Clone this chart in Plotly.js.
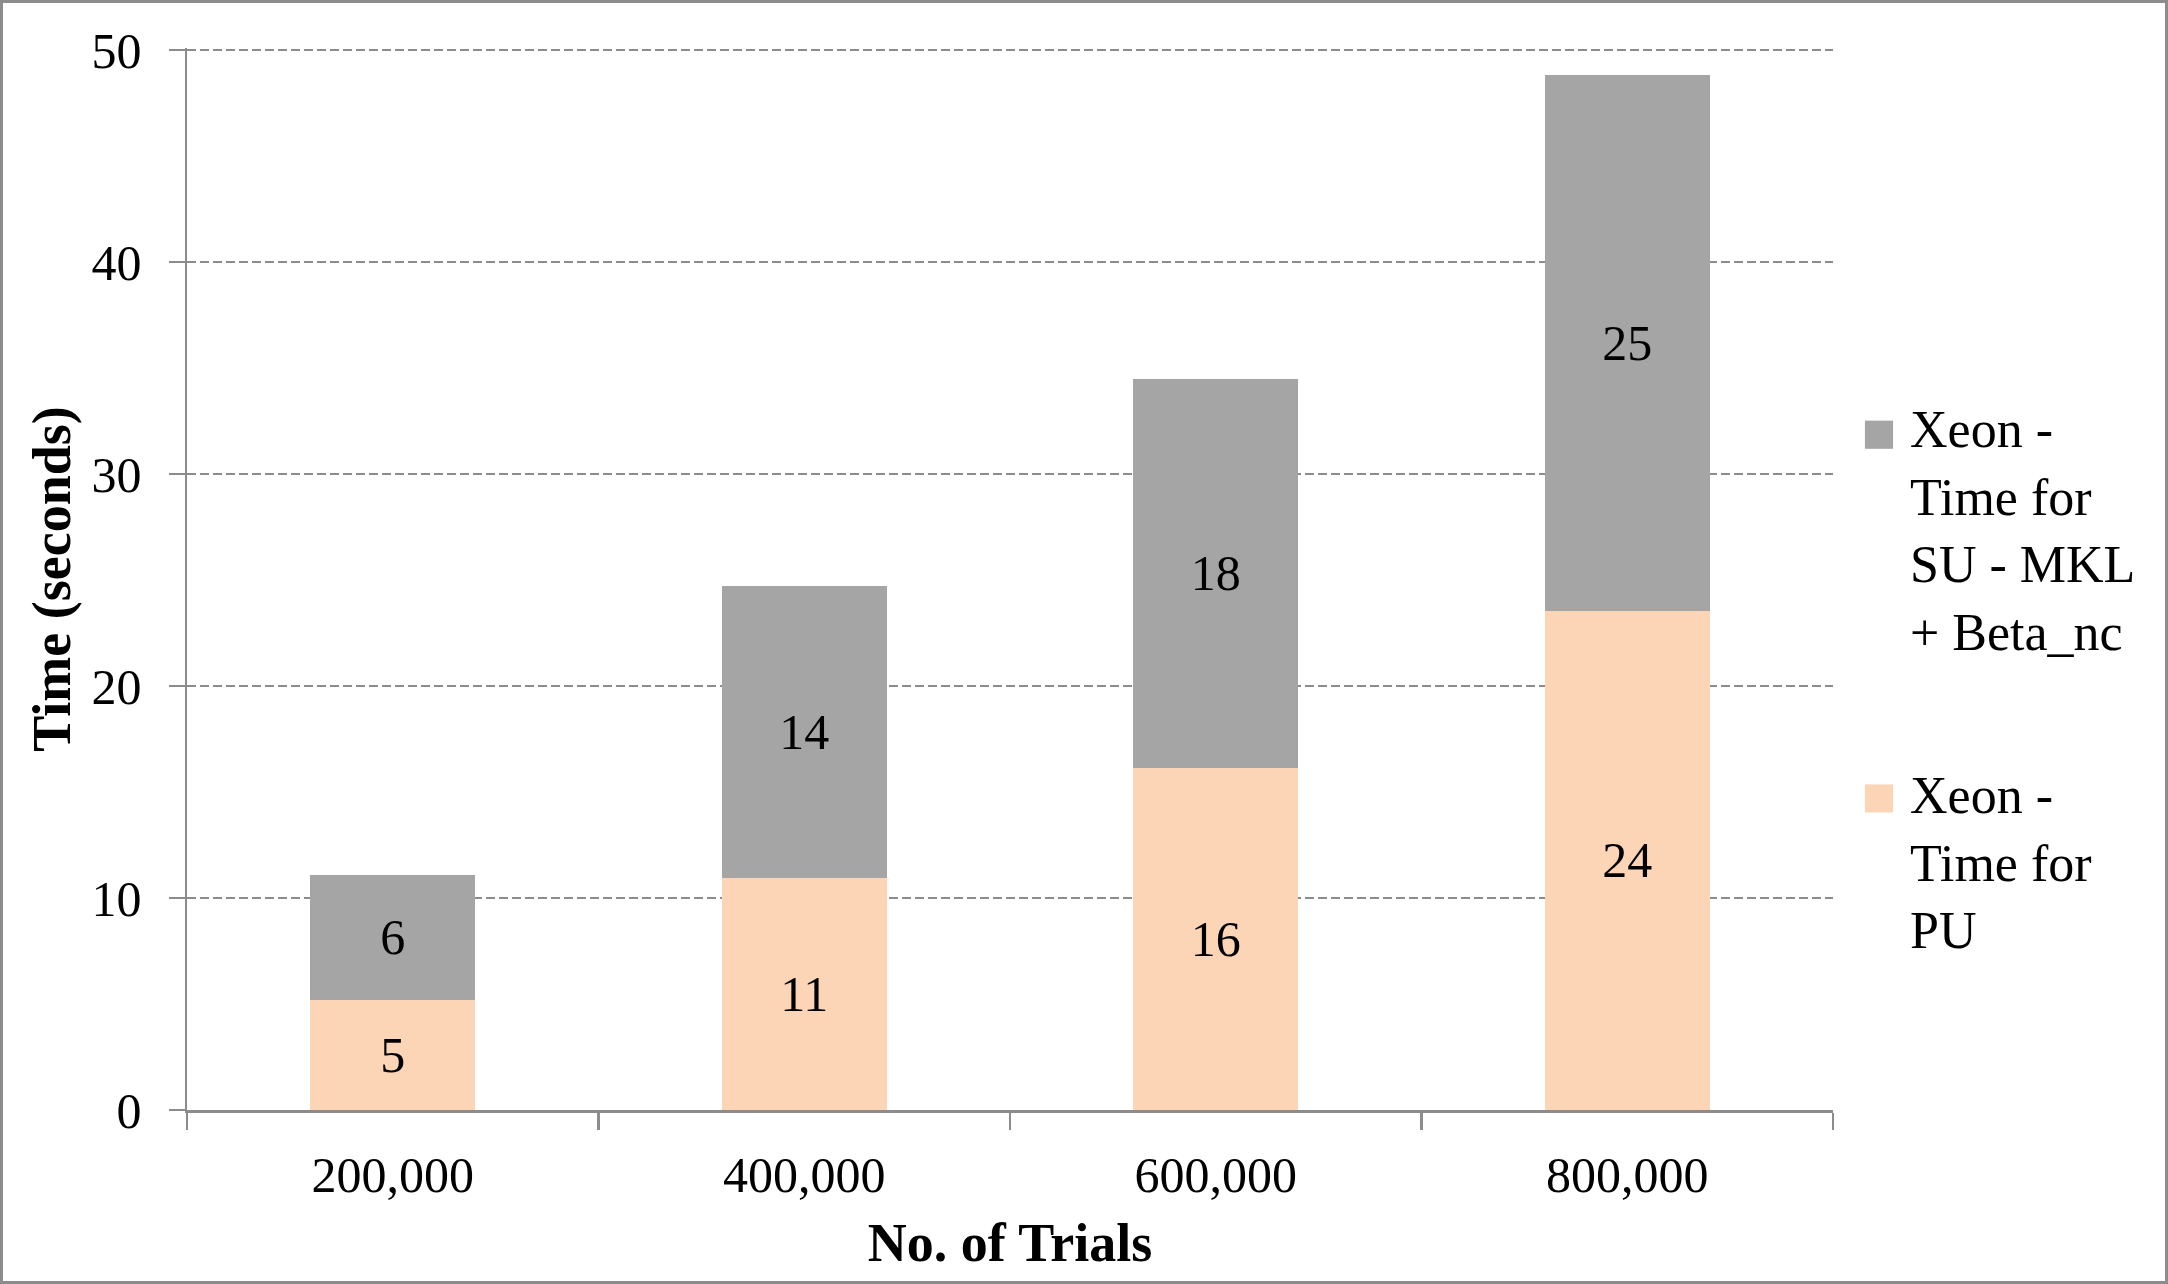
<!DOCTYPE html>
<html>
<head>
<meta charset="utf-8">
<script src="https://cdn.plot.ly/plotly-3.0.1.min.js"></script>
<style>
  body { margin: 0; background: #fff; }
  #wrap { position: relative; width: 2168px; height: 1284px; }
  #frame { position: absolute; left: 0; top: 0; width: 2168px; height: 1284px;
           box-sizing: border-box; border: 3px solid #8c8c8c; pointer-events: none; }
</style>
</head>
<body>
<div id="wrap">
  <div id="graph"></div>
  <div id="frame"></div>
</div>
<script>
// data
var trials = ['200,000', '400,000', '600,000', '800,000'];
var time_pu = [5.2, 10.95, 16.15, 23.55];
var time_su = [5.9, 13.75, 18.35, 25.3];
var name_pu = 'Xeon -<br>Time for<br>PU';
var name_su = 'Xeon -<br>Time for<br>SU - MKL<br>+ Beta_nc';
var col_pu = '#fbd5b5';
var col_su = '#a5a5a5';

var serif = '"Palatino Linotype", "Book Antiqua", Palatino, "Liberation Serif", serif';

function barTrace(y, name, color) {
  return {
    x: trials,
    y: y,
    name: name,
    type: 'bar',
    marker: { color: color },
    texttemplate: '%{y:.0f}',
    textposition: 'inside',
    insidetextanchor: 'middle',
    constraintext: 'none',
    textangle: 0,
    textfont: { family: serif, size: 50, color: '#000' },
    hoverinfo: 'skip'
  };
}

var data = [barTrace(time_pu, name_pu, col_pu), barTrace(time_su, name_su, col_su)];

// legend drawn by hand (Plotly's bar swatches are too small)
var legendFont = { family: serif, size: 52, color: '#000' };
var annotations = [
  { xref: 'paper', yref: 'paper', x: 1.0456, y: 0.545, xanchor: 'left', yanchor: 'middle',
    align: 'left', showarrow: false, text: name_su, font: legendFont },
  { xref: 'paper', yref: 'paper', x: 1.0456, y: 0.233, xanchor: 'left', yanchor: 'middle',
    align: 'left', showarrow: false, text: name_pu, font: legendFont }
];
var shapes = [
  { type: 'rect', xref: 'paper', yref: 'paper', x0: 1.0194, x1: 1.0365, y0: 0.6226, y1: 0.6491,
    fillcolor: col_su, line: { width: 0 } },
  { type: 'rect', xref: 'paper', yref: 'paper', x0: 1.0194, x1: 1.0365, y0: 0.2802, y1: 0.3066,
    fillcolor: col_pu, line: { width: 0 } }
];

var layout = {
  width: 2168,
  height: 1284,
  margin: { l: 187, r: 335, t: 48, b: 174 },
  paper_bgcolor: '#fff',
  plot_bgcolor: '#fff',
  font: { family: serif, size: 50, color: '#000' },
  barmode: 'stack',
  bargap: 0.6,
  showlegend: false,
  annotations: annotations,
  shapes: shapes,
  xaxis: {
    type: 'category',
    showline: true, linecolor: '#8c8c8c', linewidth: 2.5,
    ticks: 'outside', tickson: 'boundaries', ticklen: 17, tickwidth: 2.5, tickcolor: '#8c8c8c',
    ticklabelstandoff: 19,
    showgrid: false,
    title: { text: '<b>No. of Trials</b>', font: { family: serif, size: 54 }, standoff: 22 }
  },
  yaxis: {
    range: [0, 50.1],
    tickvals: [0, 10, 20, 30, 40, 50],
    showline: true, linecolor: '#8c8c8c', linewidth: 2.5,
    ticks: 'outside', ticklen: 16, tickwidth: 2.5, tickcolor: '#8c8c8c',
    ticklabelstandoff: 17,
    showgrid: true, gridcolor: '#8c8c8c', gridwidth: 2.5, griddash: '9px,4px',
    zeroline: false,
    title: { text: '<b>Time (seconds)</b>', font: { family: serif, size: 54 }, standoff: 4 }
  }
};

Plotly.newPlot('graph', data, layout, { displayModeBar: false, staticPlot: true });
</script>
</body>
</html>
